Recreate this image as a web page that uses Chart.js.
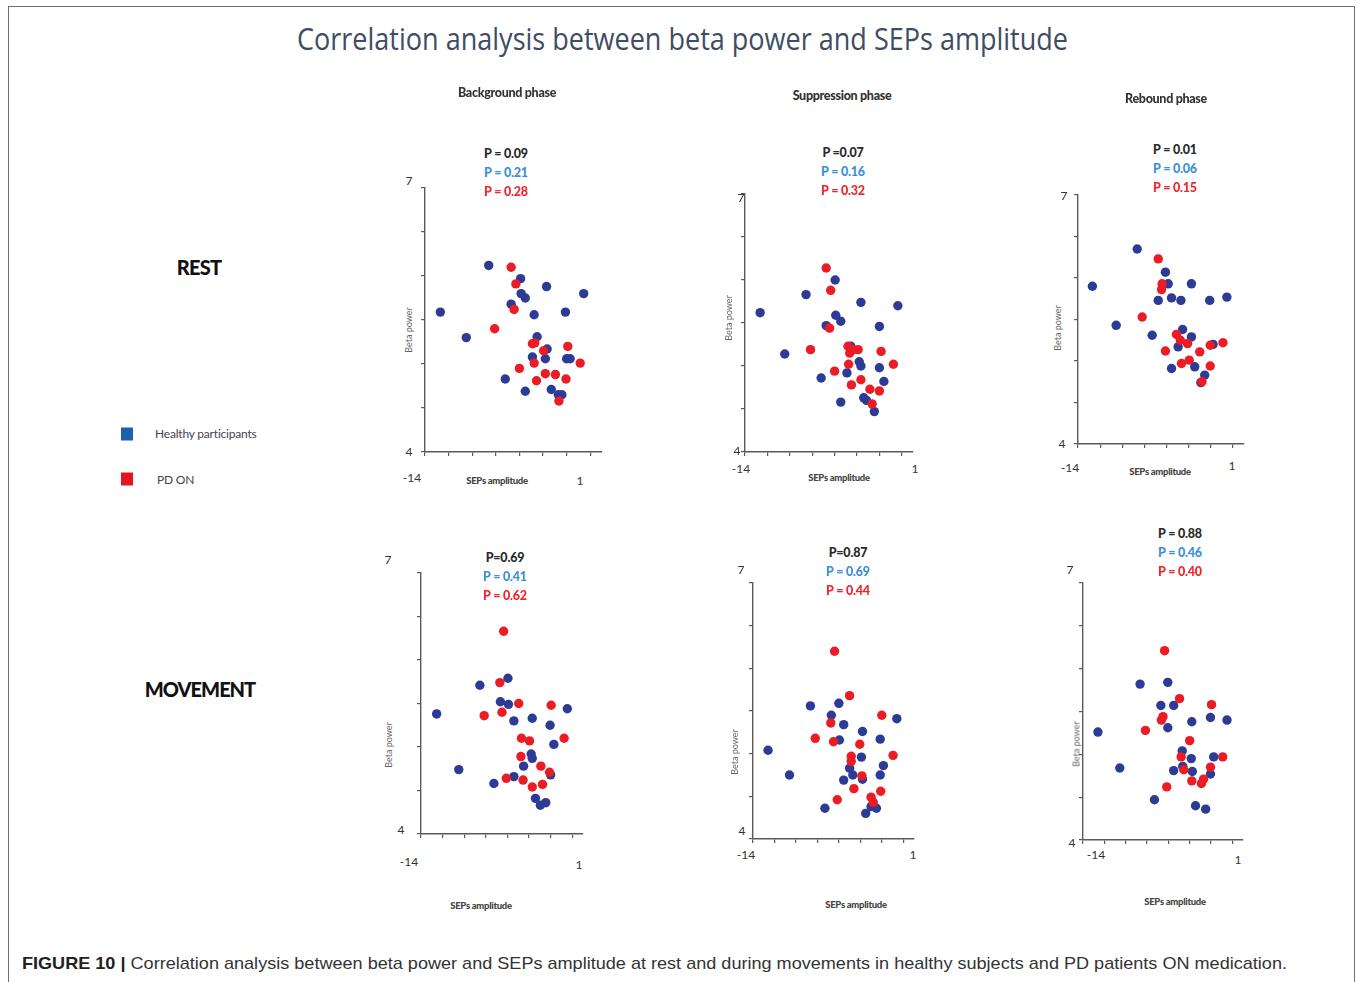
<!DOCTYPE html>
<html>
<head>
<meta charset="utf-8">
<script src="https://cdn.jsdelivr.net/npm/chart.js@4.4.1/dist/chart.umd.min.js"></script>
<style>
  body { margin: 0; width: 1360px; height: 982px; overflow: hidden; background: #fff; position: relative; font-family: Lato, "Open Sans", sans-serif; }
  .frame { position: absolute; left: 8px; top: 6px; width: 1347px; height: 1000px; border: 1.5px solid #6f6f6f; box-sizing: border-box; }
  .lbl { position: absolute; white-space: nowrap; transform: translate(-50%, -50%); line-height: 1; }
  canvas { position: absolute; }
</style>
</head>
<body>
<div class="frame"></div>

<script>
// ---- data (x = SEPs amplitude, y = Beta power) ----
var restBgHealthy = [[-12.7,5.59],[-10.5,5.30],[-8.6,6.12],[-6.7,5.68],[-5.9,5.97],[-5.85,5.80],[-5.5,5.75],[-4.75,5.56],[-3.7,5.88],[-2.1,5.59],[-0.55,5.80],
  [-4.5,5.31],[-4.9,5.08],[-3.65,5.17],[-3.8,5.06],[-2.0,5.06],[-1.7,5.06],[-7.2,4.83],[-5.5,4.69],[-3.3,4.71],[-2.7,4.65],[-2.4,4.65]];
var restBgPD = [[-6.7,6.10],[-6.3,5.91],[-6.45,5.62],[-8.1,5.40],[-4.9,5.23],[-4.7,5.24],[-3.95,5.15],[-1.9,5.20],[-0.85,5.01],[-4.75,5.01],
  [-6.0,4.95],[-3.8,4.89],[-2.95,4.88],[-2.05,4.83],[-4.55,4.81],[-2.65,4.58]];

var restSupHealthy = [[-12.65,5.62],[-10.45,5.14],[-8.55,5.83],[-7.2,4.86],[-6.75,5.47],[-5.95,6.00],[-5.9,5.59],[-5.45,5.52],[-4.55,5.23],[-3.8,5.05],[-3.65,5.00],
  [-4.9,4.92],[-5.45,4.58],[-3.65,5.74],[-2.0,5.46],[-2.0,4.98],[-1.6,4.82],[-0.35,5.70],[-3.4,4.63],[-3.15,4.60],[-2.45,4.47]];
var restSupPD = [[-6.75,6.14],[-6.35,5.88],[-6.45,5.44],[-8.15,5.19],[-4.8,5.23],[-4.35,5.19],[-3.9,5.19],[-4.65,5.15],[-4.75,5.02],[-6.0,4.94],
  [-1.85,5.17],[-0.75,5.02],[-4.5,4.78],[-3.65,4.84],[-2.85,4.73],[-2.0,4.71],[-2.65,4.56]];

var restRebHealthy = [[-12.7,5.90],[-10.55,5.43],[-8.65,6.35],[-7.3,5.31],[-6.75,5.73],[-6.1,6.07],[-5.85,5.93],[-5.55,5.76],[-4.7,5.73],[-3.75,5.93],[-2.1,5.73],
  [-0.55,5.77],[-4.55,5.38],[-3.75,5.29],[-4.95,5.17],[-1.8,5.20],[-5.55,4.91],[-3.45,4.93],[-2.55,4.83],[-2.9,4.74]];
var restRebPD = [[-6.75,6.23],[-6.4,5.93],[-6.45,5.86],[-8.2,5.53],[-5.1,5.32],[-4.75,5.25],[-4.1,5.21],[-6.1,5.12],[-3.0,5.11],[-2.05,5.19],
  [-0.9,5.22],[-4.65,4.97],[-3.95,5.01],[-2.05,4.94],[-2.8,4.75]];

var moveBgHealthy = [[-12.55,5.38],[-10.5,4.74],[-8.55,5.71],[-7.25,4.58],[-6.65,5.52],[-5.95,5.79],[-5.9,5.49],[-5.4,5.30],[-3.7,5.33],[-3.8,4.92],[-3.7,4.87],
  [-4.5,4.78],[-5.4,4.66],[-2.05,5.25],[-0.45,5.44],[-1.7,5.03],[-2.0,4.68],[-3.4,4.41],[-2.95,4.33],[-2.45,4.36]];
var moveBgPD = [[-6.35,6.33],[-6.7,5.74],[-6.5,5.40],[-8.15,5.36],[-4.95,5.50],[-1.95,5.48],[-0.75,5.10],[-4.7,5.10],[-3.95,5.07],[-4.75,4.89],
  [-2.9,4.78],[-2.1,4.71],[-6.1,4.64],[-4.55,4.62],[-3.7,4.54],[-2.75,4.57]];

var moveSupHealthy = [[-12.6,5.04],[-10.6,4.75],[-8.65,5.56],[-7.3,4.36],[-6.7,5.45],[-6.0,5.59],[-5.55,5.34],[-5.95,5.16],[-3.8,5.26],[-2.15,5.17],[-0.6,5.41],
  [-3.9,4.96],[-5.0,4.83],[-4.7,4.75],[-5.55,4.69],[-3.8,4.70],[-1.85,4.86],[-2.15,4.75],[-3.5,4.30],[-3.0,4.38],[-2.5,4.36]];
var moveSupPD = [[-6.4,6.20],[-5.0,5.68],[-6.75,5.36],[-8.2,5.18],[-6.5,5.14],[-4.05,5.11],[-2.0,5.45],[-0.95,4.98],[-4.85,4.97],[-4.85,4.91],
  [-3.85,4.74],[-4.6,4.59],[-6.15,4.46],[-3.0,4.49],[-2.8,4.43],[-2.1,4.56]];

var moveRebHealthy = [[-12.6,5.26],[-10.55,4.84],[-8.65,5.82],[-7.3,4.47],[-6.7,5.57],[-6.05,5.84],[-5.5,5.57],[-6.05,5.31],[-3.8,5.38],[-2.05,5.43],[-0.5,5.40],
  [-4.7,5.04],[-3.85,4.95],[-4.65,4.86],[-5.5,4.81],[-3.75,4.80],[-1.75,4.97],[-2.05,4.77],[-3.45,4.40],[-2.5,4.36]];
var moveRebPD = [[-6.35,6.21],[-4.95,5.65],[-1.95,5.58],[-6.65,5.40],[-6.5,5.44],[-8.15,5.28],[-4.0,5.16],[-4.8,4.97],[-4.55,4.82],[-0.9,4.97],
  [-2.05,4.85],[-3.8,4.69],[-2.9,4.66],[-2.7,4.71],[-6.15,4.62]];

var phaseTitles = ["Background phase", "Suppression phase", "Rebound phase"];
var rowTitles = ["REST", "MOVEMENT"];
var pAll = ["P = 0.09", "P =0.07", "P = 0.01", "P=0.69", "P=0.87", "P = 0.88"];
var pHealthy = ["P = 0.21", "P = 0.16", "P = 0.06", "P = 0.41", "P = 0.69", "P = 0.46"];
var pPD = ["P = 0.28", "P = 0.32", "P = 0.15", "P = 0.62", "P = 0.44", "P = 0.40"];
var xTickLabels = ["-14", "1"];
var yTickLabels = ["7", "4"];
var legendLabels = ["Healthy participants", "PD ON"];

var BLUE = "rgb(44,60,150)";
var RED = "rgb(236,28,36)";
var AXIS = "#5a5a5a";

// ---- layout of the six panels (pixel boxes of the axes) ----
var panels = [
  {h: restBgHealthy,  p: restBgPD,  ax: 425,  top: 188, bot: 452, right: 602,
   t7: [409,181], t4: [409,452], tm14: [412,478], t1: [580,481], sep: [497,481], beta: [408,330], pc: [506,154]},
  {h: restSupHealthy, p: restSupPD, ax: 745,  top: 194, bot: 452, right: 913,
   t7: [741,198], t4: [737,451], tm14: [741,469], t1: [915,469], sep: [839,478], beta: [728,318], pc: [843,153]},
  {h: restRebHealthy, p: restRebPD, ax: 1078, top: 195, bot: 444, right: 1244,
   t7: [1064,196], t4: [1062,444], tm14: [1070,468], t1: [1232,466], sep: [1160,472], beta: [1057,328], pc: [1175,150]},
  {h: moveBgHealthy,  p: moveBgPD,  ax: 421,  top: 573, bot: 834, right: 583,
   t7: [388,560], t4: [401,830], tm14: [409,862], t1: [579,865], sep: [481,906], beta: [388,745], pc: [505,558]},
  {h: moveSupHealthy, p: moveSupPD, ax: 753,  top: 583, bot: 839, right: 914,
   t7: [741,570], t4: [742,831], tm14: [746,855], t1: [913,855], sep: [856,905], beta: [734,752], pc: [848,553]},
  {h: moveRebHealthy, p: moveRebPD, ax: 1083, top: 583, bot: 840, right: 1243,
   t7: [1070,570], t4: [1072,843], tm14: [1096,855], t1: [1238,860], sep: [1175,902], beta: [1076,744], pc: [1180,534]}
];

function label(text, x, y, css) {
  var d = document.createElement("div");
  d.className = "lbl";
  d.textContent = text;
  d.style.left = x + "px";
  d.style.top = y + "px";
  for (var k in css) d.style[k] = css[k];
  document.body.appendChild(d);
  return d;
}

function fitWidth(el, w) {
  var r = el.getBoundingClientRect().width;
  el.style.transform = el.style.transform + " scaleX(" + (w / r) + ")";
}

function toPts(arr) {
  return arr.map(function(p) { return {x: p[0], y: p[1]}; });
}

var TICK = 4, PL = 2, PT = 6, PR = 6, PB = 2;

panels.forEach(function(pn, i) {
  var cv = document.createElement("canvas");
  var w = (pn.right - pn.ax) + TICK + PL + PR;
  var h = (pn.bot - pn.top) + TICK + PT + PB;
  cv.width = w; cv.height = h;
  cv.style.left = (pn.ax - TICK - PL) + "px";
  cv.style.top = (pn.top - PT) + "px";
  cv.style.width = w + "px"; cv.style.height = h + "px";
  document.body.appendChild(cv);

  var axisOpts = {
    grid: {drawOnChartArea: false, drawTicks: true, tickLength: TICK, color: AXIS, lineWidth: 1.2},
    border: {color: AXIS, width: 1.4}
  };

  new Chart(cv.getContext("2d"), {
    type: "scatter",
    data: {
      datasets: [
        {data: toPts(pn.p), backgroundColor: RED, borderColor: RED, pointRadius: 4.7, pointHoverRadius: 4.7, borderWidth: 0},
        {data: toPts(pn.h), backgroundColor: BLUE, borderColor: BLUE, pointRadius: 4.7, pointHoverRadius: 4.7, borderWidth: 0}
      ]
    },
    options: {
      responsive: false,
      animation: false,
      events: [],
      layout: {padding: {left: PL, top: PT, right: PR, bottom: PB}},
      plugins: {legend: {display: false}, tooltip: {enabled: false}},
      scales: {
        x: Object.assign({
          type: "linear", min: -14, max: 1,
          ticks: {display: false, stepSize: 2},
          afterBuildTicks: function(s) { s.ticks = s.ticks.filter(function(t) { return t.value <= 0; }); }
        }, axisOpts),
        y: Object.assign({
          type: "linear", min: 4, max: 7,
          ticks: {display: false, stepSize: 0.5}
        }, axisOpts)
      }
    }
  });

  var num = {fontSize: "12px", color: "#333"};
  label(yTickLabels[0], pn.t7[0], pn.t7[1], num);
  label(yTickLabels[1], pn.t4[0], pn.t4[1], num);
  label(xTickLabels[0], pn.tm14[0], pn.tm14[1], num);
  label(xTickLabels[1], pn.t1[0], pn.t1[1], num);
  label("SEPs amplitude", pn.sep[0], pn.sep[1], {fontSize: "9.5px", color: "#444", fontWeight: "900", letterSpacing: "-0.3px"});
  var b = label("Beta power", pn.beta[0], pn.beta[1], {fontSize: "9px", color: "#666"});
  b.style.transform = "translate(-50%, -50%) rotate(-90deg)";

  var pf = {fontSize: "12.5px", fontWeight: "900", letterSpacing: "-0.2px"};
  label(pAll[i], pn.pc[0], pn.pc[1], Object.assign({color: "#2a2a2a"}, pf));
  label(pHealthy[i], pn.pc[0], pn.pc[1] + 19, Object.assign({color: "#3b8fdb"}, pf));
  label(pPD[i], pn.pc[0], pn.pc[1] + 38, Object.assign({color: "#f0262e"}, pf));
});

// phase titles
var ph = {fontSize: "12.5px", fontWeight: "900", color: "#333", letterSpacing: "-0.3px"};
label(phaseTitles[0], 507, 93, ph);
label(phaseTitles[1], 842, 96, ph);
label(phaseTitles[2], 1166, 99, ph);

// row titles
label(rowTitles[0], 199, 267, {fontSize: "20px", fontWeight: "900", color: "#111", letterSpacing: "-0.8px"});
label(rowTitles[1], 200, 689, {fontSize: "20px", fontWeight: "900", color: "#111", letterSpacing: "-1px"});

// legend
label("", 127, 434, {width: "12px", height: "13px", background: "#1e5fae"});
label("", 127, 479, {width: "12px", height: "13px", background: "#e8121c"});
var l1 = label(legendLabels[0], 155, 434, {fontSize: "12px", color: "#4a4050", letterSpacing: "-0.2px"});
l1.style.transform = "translate(0, -50%)";
var l2 = label(legendLabels[1], 157, 480, {fontSize: "12px", color: "#4a4050", letterSpacing: "-0.2px"});
l2.style.transform = "translate(0, -50%)";

// main title
var title = label("Correlation analysis between beta power and SEPs amplitude", 297, 38,
  {fontSize: "31px", color: "#3f4d63", fontFamily: "'Open Sans', Lato, sans-serif"});
title.style.transform = "translate(0, -50%)";
title.style.transformOrigin = "left center";
fitWidth(title, 771);

// caption
var cap = document.createElement("div");
cap.className = "lbl";
cap.style.left = "22px";
cap.style.top = "963px";
cap.style.fontSize = "17px";
cap.style.fontFamily = "'Liberation Sans', Arial, sans-serif";
cap.style.color = "#333";
cap.style.transform = "translate(0, -50%)";
cap.style.transformOrigin = "left center";
cap.innerHTML = '<b style="color:#222">FIGURE 10 |</b> Correlation analysis between beta power and SEPs amplitude at rest and during movements in healthy subjects and PD patients ON medication.';
document.body.appendChild(cap);
fitWidth(cap, 1265);
</script>
</body>
</html>
